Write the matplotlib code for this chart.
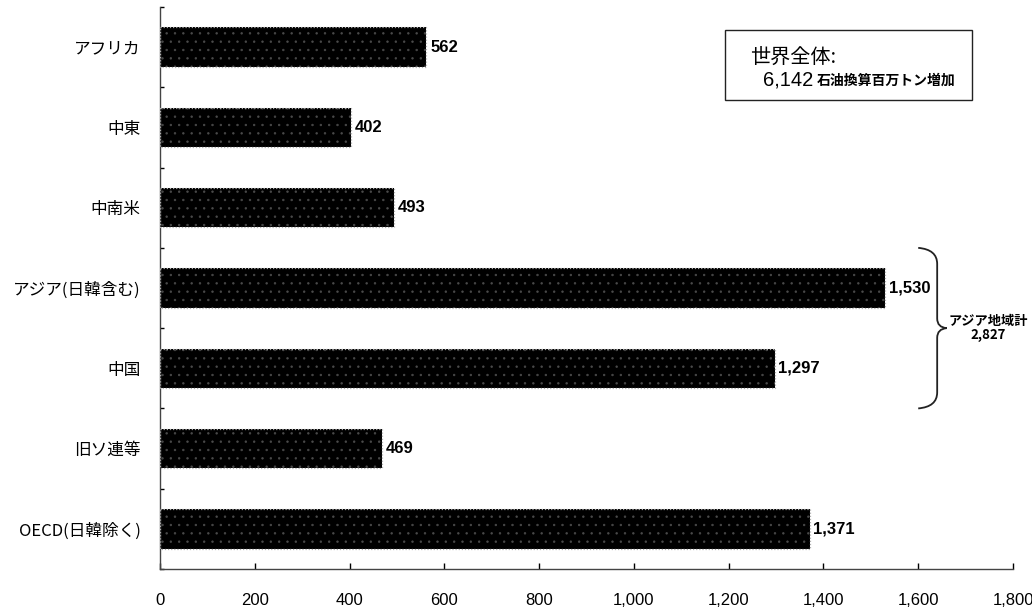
import matplotlib
matplotlib.use("Agg")
import matplotlib.pyplot as plt
from matplotlib.path import Path
from matplotlib.patches import PathPatch, Rectangle
from matplotlib.ticker import FuncFormatter

plt.rcParams['font.family'] = ['Noto Sans CJK JP', 'DejaVu Sans']

categories = ["アフリカ", "中東", "中南米", "アジア(日韓含む)", "中国", "旧ソ連等", "OECD(日韓除く)"]
values = [562, 402, 493, 1530, 1297, 469, 1371]
value_labels = ["562", "402", "493", "1,530", "1,297", "469", "1,371"]
xticks = [0, 200, 400, 600, 800, 1000, 1200, 1400, 1600, 1800]
asia_total_label = "アジア地域計\n2,827"
world_title = "世界全体:"
world_value = "6,142"
world_unit = "石油換算百万トン増加"

fig = plt.figure(figsize=(10.32, 6.09), dpi=100)
ax = fig.add_axes([160/1032, 1-569/609, 853/1032, (569-7)/609])

y = list(range(len(categories)))
plt.rcParams['hatch.linewidth'] = 0.5
ax.barh(y, values, height=0.49, color='black', edgecolor='#4a4a4a',
        linewidth=0.0, hatch='..', zorder=2)
ax.barh(y, values, height=0.49, facecolor='none', edgecolor='#b0b0b0',
        linewidth=0.9, linestyle=(0, (1, 1.5)), zorder=3)

for yi, v, lab in zip(y, values, value_labels):
    ax.text(v + 8, yi, lab, va='center', ha='left', fontsize=12,
            fontweight='bold', family=['Liberation Sans', 'DejaVu Sans'])

ax.set_ylim(len(categories) - 0.5, -0.5)
ax.set_xlim(0, 1800)
ax.set_yticks(y)
ax.set_yticklabels(categories, fontsize=12)
ax.set_yticks([i + 0.5 for i in range(-1, len(categories))], minor=True)
ax.tick_params(axis='y', which='major', length=0, pad=14)
ax.tick_params(axis='y', which='minor', direction='in', length=3, width=1)
ax.set_xticks(xticks)
ax.xaxis.set_major_formatter(FuncFormatter(lambda v, p: f"{int(v):,}"))
ax.tick_params(axis='x', direction='in', length=4, width=1, pad=17, labelsize=12)
for lab in ax.get_xticklabels():
    lab.set_family(['Liberation Sans', 'DejaVu Sans'])

for s in ['top', 'right']:
    ax.spines[s].set_visible(False)
for s in ['left', 'bottom']:
    ax.spines[s].set_color('#444444')
    ax.spines[s].set_linewidth(1)

# brace spanning Asia + China
y0, y1 = 2.5, 4.5
ym = (y0 + y1) / 2
x0, x1, xt = 1600, 1640, 1660
verts = [(x0, y0), (x1, y0 + 0.02), (x1, y0 + 0.2),
         (x1, ym - 0.12), (x1, ym - 0.01), (xt, ym),
         (x1, ym + 0.01), (x1, ym + 0.12),
         (x1, y1 - 0.2), (x1, y1 - 0.02), (x0, y1)]
codes = [Path.MOVETO, Path.CURVE3, Path.CURVE3,
         Path.LINETO, Path.CURVE3, Path.CURVE3,
         Path.CURVE3, Path.CURVE3,
         Path.LINETO, Path.CURVE3, Path.CURVE3]
brace = PathPatch(Path(verts, codes), facecolor='none', edgecolor='#222222',
                  linewidth=1.3, clip_on=False)
ax.add_patch(brace)
ax.text(1748, ym, asia_total_label, ha='center', va='center', fontsize=9.5,
        fontweight='bold', linespacing=1.05, clip_on=False)

# world total box
box = Rectangle((725/1032, 1-100/609), (972-725)/1032, (100-30)/609,
                transform=fig.transFigure, facecolor='white', edgecolor='#222222',
                linewidth=1.0, zorder=5)
fig.add_artist(box)
fig.text(750/1032, 1-57/609, world_title, fontsize=14.5, va='center', ha='left', zorder=6)
fig.text(763/1032, 1-80/609, world_value, fontsize=14.5, va='center', ha='left',
         family=['Liberation Sans', 'DejaVu Sans'], zorder=6)
fig.text(817/1032, 1-81/609, world_unit, fontsize=10, va='center', ha='left',
         fontweight='bold', zorder=6)

fig.savefig("out.png", dpi=100)
